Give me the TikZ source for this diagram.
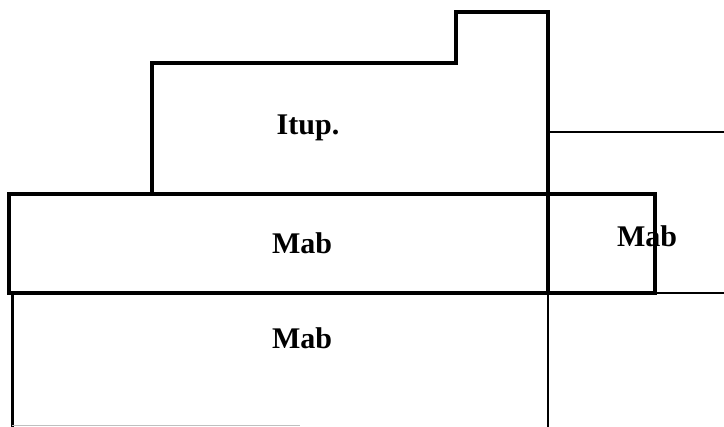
\documentclass[tikz,border=0pt]{standalone}
\usepackage{fontspec}
\setmainfont{Liberation Serif}
\begin{document}
\begin{tikzpicture}[x=1pt,y=-1pt,
  thickline/.style={line width=4.5pt,line cap=rect,line join=miter},
  thinline/.style={line width=2pt},
  lbl/.style={font=\bfseries\fontsize{30}{30}\selectfont,anchor=base,inner sep=0pt}]
\useasboundingbox (0,0) rectangle (724,427);
% upper block (Itup.)
\draw[thickline] (152,194) -- (152,63) -- (456,63) -- (456,12) -- (548,12) -- (548,194);
% right vertical line down to the bottom
\draw[thinline] (548,194) -- (548,427);
% thin horizontal on the right
\draw[thinline] (548,132) -- (724,132);
% middle Mab band
\draw[thickline] (9,194) rectangle (548,293);
% right small box
\draw[thickline] (548,194) -- (655,194) -- (655,293) -- (548,293);
\draw[thinline] (655,293) -- (724,293);
% bottom Mab block left edge
\draw[line width=3pt] (12,293) -- (12,427);
\draw[black!25,line width=1pt] (12,426) -- (300,426);
% labels
\node[lbl] (itup) at (308,135) {Itup.};
\node[lbl] (mab1) at (302,254) {Mab};
\node[lbl] (mab2) at (302,349) {Mab};
\node[lbl] (mab3) at (647,247) {Mab};
\end{tikzpicture}
\end{document}
